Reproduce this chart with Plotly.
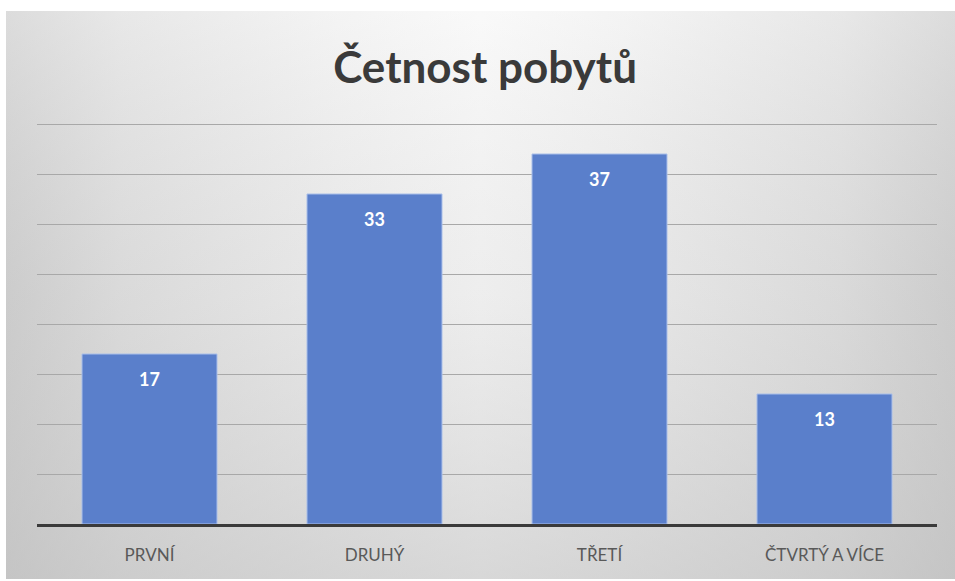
import plotly.graph_objects as go

categories = ["PRVNÍ", "DRUHÝ", "TŘETÍ", "ČTVRTÝ A VÍCE"]
values = [17, 33, 37, 13]
title_text = "Četnost pobytů"

W, H = 955, 581
fig = go.Figure()

panel_x = [6, 955, 955, 6, 6]
panel_y = [11, 11, 579, 579, 11]

# background panel: horizontal gradient (grey edges, light centre)
fig.add_trace(go.Scatter(
    x=panel_x, y=panel_y, mode="lines", line=dict(width=0), fill="toself",
    fillgradient=dict(type="horizontal",
                      colorscale=[[0, "#cdcdcd"], [0.12, "#dedede"], [0.35, "#efefef"],
                                  [0.5, "#f7f7f7"], [0.65, "#efefef"], [0.88, "#dedede"],
                                  [1, "#cdcdcd"]]),
    hoverinfo="skip", showlegend=False, xaxis="x", yaxis="y"))
# vertical darkening towards the bottom
fig.add_trace(go.Scatter(
    x=panel_x, y=panel_y, mode="lines", line=dict(width=0), fill="toself",
    fillgradient=dict(type="vertical",
                      colorscale=[[0, "rgba(190,190,190,0.55)"], [0.5, "rgba(200,200,200,0.2)"],
                                  [1, "rgba(255,255,255,0.3)"]]),
    hoverinfo="skip", showlegend=False, xaxis="x", yaxis="y"))

fig.add_trace(go.Bar(
    x=categories, y=values, xaxis="x2", yaxis="y2",
    marker=dict(color="#5a7fcb", line=dict(color="#a9bfe9", width=1)),
    width=0.6, showlegend=False, hoverinfo="x+y"))

for c, v in zip(categories, values):
    fig.add_annotation(x=c, y=v, xref="x2", yref="y2", text="<b>%d</b>" % v,
                       showarrow=False, yanchor="middle", yshift=-25,
                       font=dict(family="Lato, Open Sans, sans-serif", size=18, color="white"))

fig.update_layout(
    width=W, height=H,
    margin=dict(l=0, r=0, t=0, b=0),
    paper_bgcolor="white", plot_bgcolor="rgba(0,0,0,0)",
    xaxis=dict(domain=[0, 1], range=[0, W], visible=False, fixedrange=True),
    yaxis=dict(domain=[0, 1], range=[H, 0], visible=False, fixedrange=True),
    xaxis2=dict(domain=[37 / W, 937 / W], anchor="y2", showgrid=False, ticks="",
                showline=True, linecolor="#3a3a3a", linewidth=3,
                tickfont=dict(family="Lato, Open Sans, sans-serif", size=17, color="#595959"),
                ticklabelstandoff=14),
    yaxis2=dict(domain=[(H - 524) / H, (H - 122) / H], anchor="x2", range=[0, 40.2],
                tick0=0, dtick=5, showticklabels=False, showgrid=True, gridcolor="#a8a8a8",
                gridwidth=1, zeroline=False, ticks=""),
    title=dict(text="<b>" + title_text + "</b>", x=0.508, xanchor="center",
               y=1 - 68 / H, yanchor="middle",
               font=dict(family="Lato, Open Sans, sans-serif", size=44, color="#3a3a3a")),
)

fig.write_html("out.html", config={"displayModeBar": False},
               post_script="document.body.style.margin='0';")
